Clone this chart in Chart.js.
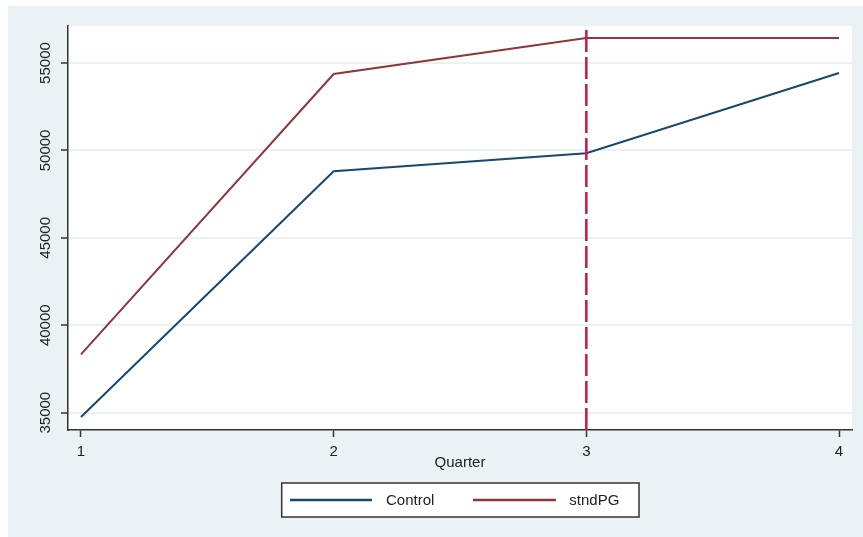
<!DOCTYPE html>
<html>
<head>
<meta charset="utf-8">
<script src="https://cdn.jsdelivr.net/npm/chart.js@4/dist/chart.umd.min.js"></script>
<style>
  html, body { margin: 0; padding: 0; background: #ffffff; }
  #wrap { position: absolute; left: 8px; top: 6px; width: 855px; height: 531px; background: #eaf2f3; }
  canvas { display: block; }
</style>
</head>
<body>
<div id="wrap"><canvas id="c" width="855" height="531"></canvas></div>
<script>
// ---- data ----
const quarters = [1, 2, 3, 4];
const controlValues = [34754, 48810, 49840, 54427];
const stndPGValues = [38339, 54370, 56432, 56432];
const seriesNames = ['Control', 'stndPG'];
const xTickValues = [1, 2, 3, 4];
const yTickValues = [35000, 40000, 45000, 50000, 55000];
const refLineQuarter = 3;
const xRange = [0.9486, 4.0514];
const yRange = [34009, 57119];

const FONT = "'Liberation Sans', Arial, sans-serif";
const TEXT = '#222222';
const AXIS = '#333333';
const colors = ['#1a476f', '#90353b'];
const refColor = '#c8174a';

// legend key layout, relative to the plot centre
const legendFrame = { left: -178.3, right: 179, height: 34, bottomGap: 20 };
const legendKeys = [
  { lineFrom: -170, lineTo: -88, textAt: -74 },
  { lineFrom: 13, lineTo: 96, textAt: 109.3 }
];

const bgPlugin = {
  id: 'bg',
  beforeDraw(chart) {
    const ctx = chart.ctx, a = chart.chartArea;
    ctx.save();
    ctx.fillStyle = '#ffffff';
    ctx.fillRect(a.left, a.top, a.right - a.left, a.bottom - a.top);
    ctx.restore();
  },
  afterDraw(chart) {
    const ctx = chart.ctx, a = chart.chartArea;
    const cx = (a.left + a.right) / 2;
    const bt = chart.height - legendFrame.bottomGap;
    const tp = bt - legendFrame.height;
    const cy = (tp + bt) / 2;
    ctx.save();
    ctx.fillStyle = '#ffffff';
    ctx.fillRect(cx + legendFrame.left, tp, legendFrame.right - legendFrame.left, legendFrame.height);
    ctx.strokeStyle = AXIS;
    ctx.lineWidth = 1.5;
    ctx.strokeRect(cx + legendFrame.left, tp, legendFrame.right - legendFrame.left, legendFrame.height);
    ctx.font = "15px " + FONT;
    ctx.textBaseline = 'middle';
    ctx.textAlign = 'left';
    legendKeys.forEach((k, i) => {
      ctx.strokeStyle = colors[i];
      ctx.lineWidth = 2.5;
      ctx.beginPath();
      ctx.moveTo(cx + k.lineFrom, cy);
      ctx.lineTo(cx + k.lineTo, cy);
      ctx.stroke();
      ctx.fillStyle = TEXT;
      ctx.fillText(seriesNames[i], cx + k.textAt, cy + 0.5);
    });
    ctx.restore();
  }
};

new Chart(document.getElementById('c'), {
  type: 'line',
  data: {
    datasets: [
      {
        label: 'ref',
        data: [{x: refLineQuarter, y: yRange[0]}, {x: refLineQuarter, y: yRange[1]}],
        borderColor: refColor,
        borderWidth: 2.5,
        borderDash: [22, 5],
        pointRadius: 0,
        order: 0
      },
      {
        label: seriesNames[0],
        data: quarters.map((q, i) => ({x: q, y: controlValues[i]})),
        borderColor: colors[0],
        backgroundColor: colors[0],
        borderWidth: 2,
        pointRadius: 0,
        tension: 0,
        order: 1
      },
      {
        label: seriesNames[1],
        data: quarters.map((q, i) => ({x: q, y: stndPGValues[i]})),
        borderColor: colors[1],
        backgroundColor: colors[1],
        borderWidth: 2,
        pointRadius: 0,
        tension: 0,
        order: 1
      }
    ]
  },
  options: {
    responsive: false,
    animation: false,
    devicePixelRatio: 1,
    layout: { padding: { left: 0, right: 11, top: 20, bottom: 54.8 } },
    plugins: {
      tooltip: { enabled: false },
      legend: { display: false }
    },
    scales: {
      x: {
        type: 'linear',
        position: 'bottom',
        min: xRange[0],
        max: xRange[1],
        afterBuildTicks(s) { s.ticks = xTickValues.map(v => ({value: v})); },
        afterFit(s) { s.height = 52.2; },
        grid: { drawOnChartArea: false, tickLength: 7, tickColor: AXIS, tickWidth: 1.5 },
        border: { display: true, color: AXIS, width: 1.5 },
        ticks: {
          font: { family: FONT, size: 15 },
          color: TEXT,
          padding: 6.3,
          maxRotation: 0,
          autoSkip: false,
          callback: v => String(v)
        },
        title: {
          display: true,
          text: 'Quarter',
          font: { family: FONT, size: 15 },
          color: TEXT,
          padding: { top: 0, bottom: 10.5 }
        }
      },
      y: {
        type: 'linear',
        position: 'left',
        min: yRange[0],
        max: yRange[1],
        afterBuildTicks(s) { s.ticks = yTickValues.map(v => ({value: v})); },
        afterFit(s) { s.width = 60; },
        grid: { color: '#eaf2f3', lineWidth: 2, tickLength: 7, tickColor: AXIS, tickWidth: 1.5 },
        border: { display: true, color: AXIS, width: 1.5 },
        ticks: {
          font: { family: FONT, size: 15 },
          color: TEXT,
          padding: -5.35,
          minRotation: 90,
          maxRotation: 90,
          crossAlign: 'center',
          autoSkip: false,
          callback: v => String(v)
        }
      }
    }
  },
  plugins: [bgPlugin]
});
</script>
</body>
</html>
